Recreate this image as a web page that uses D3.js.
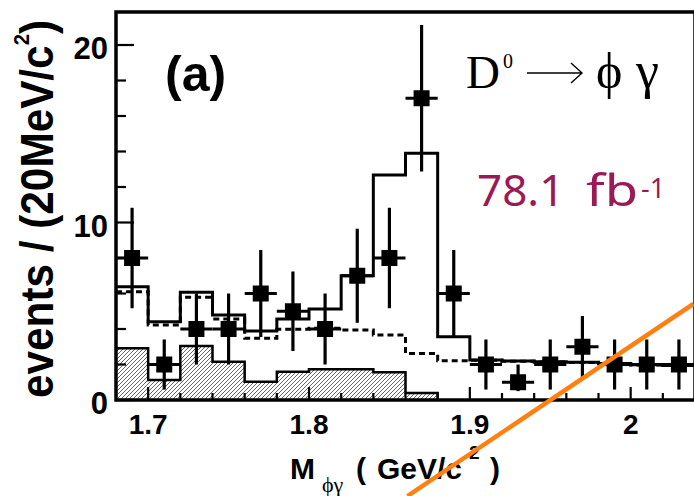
<!DOCTYPE html>
<html>
<head>
<meta charset="utf-8">
<script src="https://cdn.jsdelivr.net/npm/d3@7"></script>
<style>
  body { margin: 0; background: #fff; }
  svg { display: block; }
</style>
</head>
<body>
<div id="view"></div>
<script>
// bin edges, 20 MeV wide
var binEdges = [1.68, 1.70, 1.72, 1.74, 1.76, 1.78, 1.80, 1.82, 1.84, 1.86,
                1.88, 1.90, 1.92, 1.94, 1.96, 1.98, 2.00, 2.02, 2.04];
var dataX = [1.69, 1.71, 1.73, 1.75, 1.77, 1.79, 1.81, 1.83, 1.85, 1.87,
             1.89, 1.91, 1.93, 1.95, 1.97, 1.99, 2.01, 2.03];
var dataY = [8, 2, 4, 4, 6, 5, 4, 7, 8, 17, 6, 2, 1, 2, 3, 2, 2, 2];
var errUp = [2.83, 1.41, 2, 2, 2.45, 2.24, 2, 2.65, 2.83, 4.12, 2.45, 1.41, 1, 1.41, 1.73, 1.41, 1.41, 1.41];
var errDown = [2.83, 1.41, 2, 2, 2.45, 2.24, 2, 2.65, 2.83, 4.12, 2.45, 1.41, 0.5, 1.41, 1.73, 1.41, 1.41, 1.41];

// fit components per bin
var totalFit = [6.38, 4.41, 6.07, 4.79, 3.89, 4.56, 5.13, 7.0, 12.68, 13.9,
                3.57, 2.25, 2.2, 2.15, 2.12, 2.05, 1.98, 1.95];
var background = [6.1, 4.23, 5.79, 4.56, 3.48, 3.98, 4.04, 3.94, 3.66, 2.62,
                  2.21, 2.24, 2.19, 2.14, 2.11, 2.04, 1.97, 1.94];
var peaking = [2.91, 1.13, 3.04, 2.16, 1.03, 1.59, 1.73, 1.73, 1.56, 0.4,
               0, 0, 0, 0, 0, 0, 0, 0];

var xMajor = [1.7, 1.8, 1.9, 2.0];
var xMajorLabels = ['1.7', '1.8', '1.9', '2'];
var xMinor = [1.72, 1.74, 1.76, 1.78, 1.82, 1.84, 1.86, 1.88, 1.92, 1.94, 1.96, 1.98, 2.02];
var yMajor = [0, 10, 20];
var yMinor = [2, 4, 6, 8, 12, 14, 16, 18];

// orange overlay stroke, in data units (goes past the frame)
var overlay = [[1.8612, -5.41], [2.039, 5.41]];

var W = 694, H = 496;
var x = d3.scaleLinear().domain([1.68, 2.04]).range([116, 695]);
var y = d3.scaleLinear().domain([0, 20]).range([400, 45]);
var yTop = 21.86;

var svg = d3.select('#view').append('svg').attr('width', W).attr('height', H);

var defs = svg.append('defs');
defs.append('pattern').attr('id', 'hatch').attr('patternUnits', 'userSpaceOnUse')
    .attr('width', 4).attr('height', 4)
  .append('path').attr('d', 'M-1,1 l2,-2 M0,4 l4,-4 M3,5 l2,-2')
    .attr('stroke', '#555').attr('stroke-width', 0.9);

function stepPoints(vals) {
  var pts = vals.map(function(v, i) { return [binEdges[i], v]; });
  pts.push([binEdges[vals.length], vals[vals.length - 1]]);
  return pts;
}

var stepLine = d3.line().x(function(d) { return x(d[0]); }).y(function(d) { return y(d[1]); })
    .curve(d3.curveStepAfter);

// hatched component
var peakPts = stepPoints(peaking.slice(0, 10));
var area = d3.area().x(function(d) { return x(d[0]); }).y0(y(0)).y1(function(d) { return y(d[1]); })
    .curve(d3.curveStepAfter);
svg.append('path').datum(peakPts).attr('d', area).attr('fill', 'url(#hatch)');
svg.append('path').datum(peakPts.concat([[binEdges[10], 0]]))
    .attr('d', stepLine).attr('fill', 'none').attr('stroke', '#000').attr('stroke-width', 2.5);

// dashed background
svg.append('path').datum(stepPoints(background)).attr('d', stepLine)
    .attr('fill', 'none').attr('stroke', '#000').attr('stroke-width', 3)
    .attr('stroke-dasharray', '6,4');

// solid total
svg.append('path').datum(stepPoints(totalFit)).attr('d', stepLine)
    .attr('fill', 'none').attr('stroke', '#000').attr('stroke-width', 3);

// data points
var pts = svg.append('g');
dataX.forEach(function(cx, i) {
  var g = pts.append('g');
  g.append('line').attr('x1', x(cx)).attr('x2', x(cx))
    .attr('y1', y(dataY[i] + errUp[i])).attr('y2', y(Math.max(0, dataY[i] - errDown[i])))
    .attr('stroke', '#000').attr('stroke-width', 3.2);
  g.append('line').attr('x1', x(binEdges[i])).attr('x2', x(binEdges[i + 1]))
    .attr('y1', y(dataY[i])).attr('y2', y(dataY[i]))
    .attr('stroke', '#000').attr('stroke-width', 3);
  g.append('rect').attr('x', x(cx) - 8).attr('y', y(dataY[i]) - 8)
    .attr('width', 16).attr('height', 16).attr('fill', '#000');
});

// frame + ticks
svg.append('rect').attr('x', x(1.68)).attr('y', y(yTop))
    .attr('width', x(2.04) - x(1.68)).attr('height', y(0) - y(yTop))
    .attr('fill', 'none').attr('stroke', '#000').attr('stroke-width', 3.5);

var ticks = svg.append('g').attr('stroke', '#000').attr('stroke-width', 2.2);
yMajor.forEach(function(v) {
  ticks.append('line').attr('x1', x(1.68)).attr('x2', x(1.68) + 18).attr('y1', y(v)).attr('y2', y(v));
});
yMinor.forEach(function(v) {
  ticks.append('line').attr('x1', x(1.68)).attr('x2', x(1.68) + 10).attr('y1', y(v)).attr('y2', y(v));
});
xMajor.forEach(function(v) {
  ticks.append('line').attr('x1', x(v)).attr('x2', x(v)).attr('y1', y(0)).attr('y2', y(0) - 13);
});
xMinor.forEach(function(v) {
  ticks.append('line').attr('x1', x(v)).attr('x2', x(v)).attr('y1', y(0)).attr('y2', y(0) - 7);
});

var sans = 'Liberation Sans, Arial, sans-serif';
var serif = 'Liberation Serif, Times New Roman, serif';

svg.append('g').selectAll('text').data(yMajor).enter().append('text')
    .attr('x', 108).attr('y', function(d) { return y(d) + 14; })
    .attr('text-anchor', 'end').attr('font-family', sans).attr('font-weight', 'bold')
    .attr('font-size', 31).text(function(d) { return d; });

svg.append('g').selectAll('text').data(xMajor).enter().append('text')
    .attr('x', function(d) { return x(d); }).attr('y', 434)
    .attr('text-anchor', 'middle').attr('font-family', sans).attr('font-weight', 'bold')
    .attr('font-size', 28).text(function(d, i) { return xMajorLabels[i]; });

// axis titles
var yt = svg.append('text').attr('transform', 'translate(53,398) rotate(-90)')
    .attr('font-family', sans).attr('font-weight', 'bold').attr('font-size', 46)
    .attr('textLength', 378).attr('lengthAdjust', 'spacingAndGlyphs');
yt.append('tspan').text('events / (20MeV/c');
yt.append('tspan').attr('font-size', 22).attr('dy', -24).text('2');
yt.append('tspan').attr('dy', 24).text(')');

var xt = svg.append('text').attr('y', 479).attr('font-family', sans).attr('font-weight', 'bold')
    .attr('font-size', 30);
xt.append('tspan').attr('x', 290).text('M');
xt.append('tspan').attr('x', 322).attr('y', 492).attr('font-family', serif).attr('font-weight', 'normal')
    .attr('font-size', 22).text('ϕγ');
xt.append('tspan').attr('x', 356).attr('y', 479).text('(');
xt.append('tspan').attr('x', 377).text('GeV/c');
xt.append('tspan').attr('x', 469).attr('y', 459).attr('font-size', 19).text('2');
xt.append('tspan').attr('x', 490).attr('y', 479).text(')');

// labels inside the frame
svg.append('text').attr('x', 165).attr('y', 91).attr('font-family', sans).attr('font-weight', 'bold')
    .attr('font-size', 50).text('(a)');

var dec = svg.append('g').attr('font-family', serif);
dec.append('text').attr('x', 466).attr('y', 88).attr('font-size', 47).text('D');
dec.append('text').attr('x', 503).attr('y', 68).attr('font-size', 20).text('0');
dec.append('path').attr('d', 'M527,73 H582 M571,63 L582,73 L571,83')
    .attr('fill', 'none').attr('stroke', '#000').attr('stroke-width', 1.4);
dec.append('text').attr('x', 596).attr('y', 88).attr('font-size', 50).text('ϕ');
dec.append('text').attr('x', 636).attr('y', 88).attr('font-size', 52).text('γ');

var lumi = svg.append('text').attr('y', 206).attr('font-family', 'Noto Sans, Open Sans, sans-serif')
    .attr('font-size', 44).attr('fill', '#9a1a55');
lumi.append('tspan').attr('x', 477).text('78.1');
lumi.append('tspan').attr('x', 586).attr('textLength', 52).attr('lengthAdjust', 'spacingAndGlyphs').text('fb');
lumi.append('tspan').attr('x', 641).attr('y', 198).attr('font-size', 27).text('-1');

// orange overlay
svg.append('line').attr('x1', x(overlay[0][0])).attr('y1', y(overlay[0][1]))
    .attr('x2', x(overlay[1][0])).attr('y2', y(overlay[1][1]))
    .attr('stroke', '#ff8010').attr('stroke-width', 4.5);
</script>
</body>
</html>
